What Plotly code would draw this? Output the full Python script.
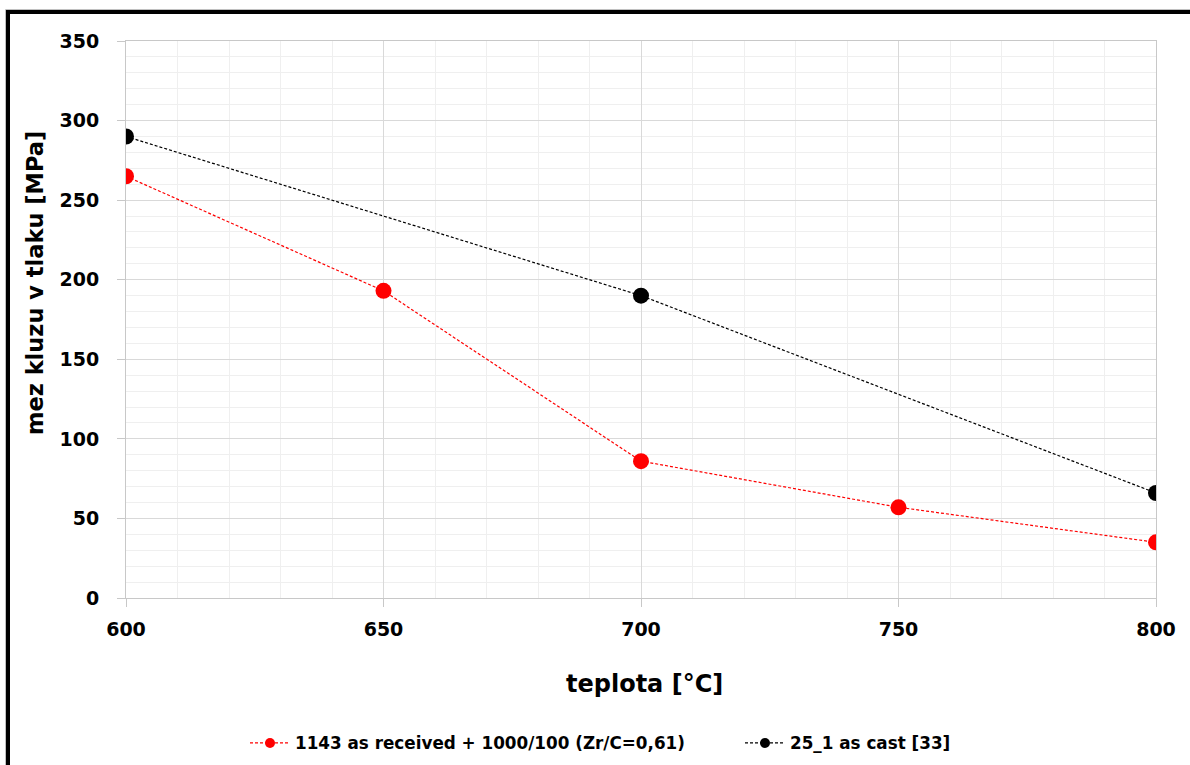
import plotly.graph_objects as go

# Temperatures [°C]
temp_red = [600, 650, 700, 750, 800]
temp_black = [600, 700, 800]

# Compressive yield strength [MPa]
sigma_red = [265, 193, 86, 57, 35]
sigma_black = [290, 190, 66]

name_red = "1143 as received + 1000/100 (Zr/C=0,61)"
name_black = "25_1 as cast [33]"

x_ticks = [600, 650, 700, 750, 800]
y_ticks = [0, 50, 100, 150, 200, 250, 300, 350]

FONT = "DejaVu Sans, Arial, sans-serif"
W, H = 1190, 765
L, R, T, B = 126, 34, 41, 167
PW, PH = W - L - R, H - T - B


def px(x):
    return (x - L) / PW


def py(y):
    return (H - B - y) / PH


fig = go.Figure()

line_style = dict(width=1.2, dash="3px,2px")

fig.add_trace(go.Scatter(
    x=temp_red, y=sigma_red, mode="lines+markers", showlegend=False,
    line=dict(color="#ff0000", **line_style),
    marker=dict(color="#ff0000", size=16),
))
fig.add_trace(go.Scatter(
    x=temp_black, y=sigma_black, mode="lines+markers", showlegend=False,
    line=dict(color="#000000", **line_style),
    marker=dict(color="#000000", size=16),
))

# legend entries with smaller symbols
fig.add_trace(go.Scatter(
    x=[None], y=[None], mode="lines+markers", name=name_red,
    line=dict(color="#ff0000", width=1.2, dash="3px,2px"),
    marker=dict(color="#ff0000", size=10),
))
fig.add_trace(go.Scatter(
    x=[None], y=[None], mode="lines+markers", name=name_black,
    line=dict(color="#000000", width=1.2, dash="3px,2px"),
    marker=dict(color="#000000", size=10),
))

axis_common = dict(
    showline=True, linecolor="#c8c8c8", linewidth=1, mirror=True,
    showgrid=True, gridcolor="#d9d9d9", gridwidth=1,
    ticks="outside", tickcolor="#c8c8c8", ticklen=8,
    tickfont=dict(family=FONT, size=19, color="#000000", weight="bold"),
    zeroline=False,
)

fig.update_xaxes(
    range=[600, 800], tickvals=x_ticks,
    minor=dict(dtick=10, showgrid=True, gridcolor="#efefef", gridwidth=1, ticks=""),
    ticklabelstandoff=6,
    **axis_common,
)
fig.update_yaxes(
    range=[0, 350], tickvals=y_ticks,
    minor=dict(dtick=10, showgrid=True, gridcolor="#efefef", gridwidth=1, ticks=""),
    ticklabelstandoff=14,
    **axis_common,
)

fig.update_layout(
    width=W, height=H,
    margin=dict(l=L, r=R, t=T, b=B, autoexpand=False),
    paper_bgcolor="white", plot_bgcolor="white",
    font=dict(family=FONT, color="#000000"),
    legend=dict(
        orientation="h", xref="container", yref="container",
        x=245 / W, xanchor="left", y=(H - 743) / H, yanchor="middle",
        font=dict(family=FONT, size=16.8, color="#000000", weight="bold"),
        itemwidth=40, tracegroupgap=0, bgcolor="rgba(0,0,0,0)",
        entrywidth=440, entrywidthmode="pixels",
    ),
    annotations=[
        dict(text="teplota [°C]", xref="paper", yref="paper",
             x=px(644), y=py(684), xanchor="center", yanchor="middle",
             showarrow=False,
             font=dict(family=FONT, size=24, color="#000000", weight="bold")),
        dict(text="mez kluzu v tlaku [MPa]", xref="paper", yref="paper",
             x=px(35), y=py(283), xanchor="center", yanchor="middle",
             textangle=-90, showarrow=False,
             font=dict(family=FONT, size=22.5, color="#000000", weight="bold")),
    ],
    shapes=[
        # outer frame (light outline + thick black border)
        dict(type="rect", xref="paper", yref="paper",
             x0=px(5.5), x1=px(1250), y0=py(9.5), y1=py(820),
             line=dict(color="#c0c0c0", width=1), fillcolor="rgba(0,0,0,0)"),
        dict(type="rect", xref="paper", yref="paper",
             x0=px(8), x1=px(1250), y0=py(12), y1=py(820),
             line=dict(color="#000000", width=4), fillcolor="rgba(0,0,0,0)"),
    ],
)

fig.write_html("out.html")
